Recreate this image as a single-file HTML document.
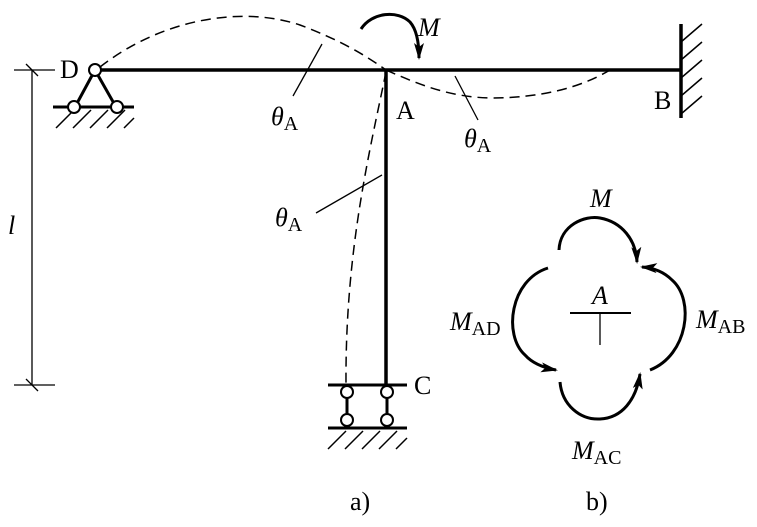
<!DOCTYPE html>
<html><head><meta charset="utf-8"><style>
body{margin:0;background:#fff}
svg text{font-family:"Liberation Serif",serif;fill:#000}
</style></head><body>
<svg width="757" height="522" viewBox="0 0 757 522" xmlns="http://www.w3.org/2000/svg">
<defs>
<marker id="ah" markerWidth="17" markerHeight="10" refX="15" refY="5" orient="auto" markerUnits="userSpaceOnUse">
<path d="M0,0 L17,5 L0,10 L4,5 Z" fill="#000"/></marker>
</defs>
<g stroke="#000" fill="none">
<line x1="95" y1="70" x2="681" y2="70" stroke-width="3.5"/>
<line x1="386" y1="70" x2="386" y2="385" stroke-width="3.5"/>
<line x1="681" y1="24" x2="681" y2="118" stroke-width="3.5"/>
<path d="M681,42 L702,24 M681,60 L702,42 M681,78 L702,60 M681,96 L702,78 M681,114 L702,96" stroke-width="1.5"/>
<path d="M95,70 L75,107 M95,70 L116,107" stroke-width="3"/>
<line x1="53" y1="107" x2="134" y2="107" stroke-width="3"/>
<path d="M56,128 L74,110 M73,128 L91,110 M90,128 L108,110 M107,128 L125,110 M124,128 L134,118" stroke-width="1.5"/>
<circle cx="95" cy="70" r="6" fill="#fff" stroke-width="2"/>
<circle cx="74" cy="107" r="6" fill="#fff" stroke-width="2"/>
<circle cx="117" cy="107" r="6" fill="#fff" stroke-width="2"/>
<line x1="328" y1="385" x2="407" y2="385" stroke-width="3"/>
<line x1="347" y1="392" x2="347" y2="420" stroke-width="3"/>
<line x1="387" y1="392" x2="387" y2="420" stroke-width="3"/>
<line x1="328" y1="428" x2="407" y2="428" stroke-width="3"/>
<path d="M328,449 L346,431 M345,449 L363,431 M362,449 L380,431 M379,449 L397,431 M396,449 L407,438" stroke-width="1.5"/>
<circle cx="347" cy="392" r="6" fill="#fff" stroke-width="2"/>
<circle cx="387" cy="392" r="6" fill="#fff" stroke-width="2"/>
<circle cx="347" cy="420" r="6" fill="#fff" stroke-width="2"/>
<circle cx="387" cy="420" r="6" fill="#fff" stroke-width="2"/>
<line x1="32" y1="70" x2="32" y2="385" stroke-width="1.3"/>
<line x1="14" y1="70" x2="55" y2="70" stroke-width="1.3"/>
<line x1="14" y1="385" x2="55" y2="385" stroke-width="1.3"/>
<line x1="26" y1="64" x2="38" y2="76" stroke-width="1.3"/>
<line x1="26" y1="379" x2="38" y2="391" stroke-width="1.3"/>
<g stroke-dasharray="10,6" stroke-width="1.5">
<path d="M100,67 C160,20 240,5 300,25 C340,40 365,55 386,70"/>
<path d="M386,70 C420,85 450,97 490,98 C540,98 580,88 610,70"/>
<path d="M386,72 C370,150 345,250 346,385"/>
</g>
<line x1="322" y1="44" x2="293" y2="96" stroke-width="1.3"/>
<line x1="455" y1="76" x2="478" y2="120" stroke-width="1.3"/>
<line x1="382" y1="175" x2="316" y2="213" stroke-width="1.3"/>
<path d="M361,29 C372,12 398,10 410,22 C417,30 419,44 419,58" stroke-width="3" marker-end="url(#ah)"/>
<line x1="570" y1="313" x2="631" y2="313" stroke-width="2"/>
<line x1="600" y1="313" x2="600" y2="345" stroke-width="1.3"/>
<path d="M559,250 C560,225 585,215 600,218 C622,222 636,240 637,262" stroke-width="3" marker-end="url(#ah)"/>
<path d="M650,370 C688,355 695,300 672,280 C665,273 655,268 642,267" stroke-width="3" marker-end="url(#ah)"/>
<path d="M560,382 C562,405 580,420 600,419 C622,418 636,400 640,374" stroke-width="3" marker-end="url(#ah)"/>
<path d="M548,268 C510,280 503,335 525,355 C533,364 545,368 556,370" stroke-width="3" marker-end="url(#ah)"/>
</g>
<g font-size="26">
<text x="60" y="78">D</text>
<text x="396" y="119">A</text>
<text x="654" y="109">B</text>
<text x="414" y="394">C</text>
<text x="418" y="36" font-style="italic">M</text>
<text x="8" y="234" font-style="italic">l</text>
<text x="271" y="125"><tspan font-style="italic">θ</tspan><tspan font-size="20" dy="5">A</tspan></text>
<text x="464" y="147"><tspan font-style="italic">θ</tspan><tspan font-size="20" dy="5">A</tspan></text>
<text x="275" y="226"><tspan font-style="italic">θ</tspan><tspan font-size="20" dy="5">A</tspan></text>
<text x="590" y="207" font-style="italic">M</text>
<text x="592" y="304" font-style="italic">A</text>
<text x="450" y="330"><tspan font-style="italic">M</tspan><tspan font-size="20" dy="5">AD</tspan></text>
<text x="696" y="328"><tspan font-style="italic">M</tspan><tspan font-size="20" dy="5">AB</tspan></text>
<text x="572" y="459"><tspan font-style="italic">M</tspan><tspan font-size="20" dy="5">AC</tspan></text>
<text x="350" y="510">a)</text>
<text x="586" y="510">b)</text>
</g>
</svg>
</body></html>
